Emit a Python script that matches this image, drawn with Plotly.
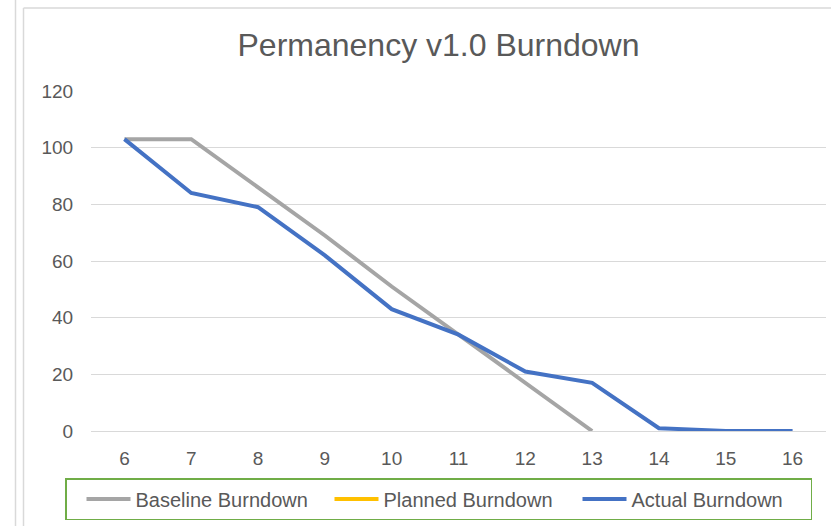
import plotly.graph_objects as go

sprints = [6, 7, 8, 9, 10, 11, 12, 13, 14, 15, 16]
baseline = [103, 103, 86, 69, 51, 34, 17, 0, None, None, None]
planned = [None] * 11
actual = [103, 84, 79, 62, 43, 34, 21, 17, 1, 0, 0]
y_ticks = [0, 20, 40, 60, 80, 100, 120]

W, H = 831, 526
L, R, T, B = 91, 826, 91, 431  # plot area in px


def px(x):
    return (x - L) / (R - L)


def py(y):
    return (B - y) / (B - T)


FONT = "Liberation Sans, Arial, sans-serif"
TXT = "#595959"
GRID = "#D9D9D9"

fig = go.Figure()
fig.add_trace(go.Scatter(x=sprints, y=baseline, mode="lines", name="Baseline Burndown",
                         line=dict(color="#A5A5A5", width=4)))
fig.add_trace(go.Scatter(x=sprints, y=planned, mode="lines", name="Planned Burndown",
                         line=dict(color="#FFC000", width=4)))
fig.add_trace(go.Scatter(x=sprints, y=actual, mode="lines", name="Actual Burndown",
                         line=dict(color="#4472C4", width=4)))

fig.update_layout(
    width=W, height=H,
    margin=dict(l=L, r=W - R, t=T, b=H - B, pad=0, autoexpand=False),
    paper_bgcolor="white", plot_bgcolor="white",
    font=dict(family=FONT, color=TXT, size=19),
    title=dict(text="Permanency v1.0 Burndown", x=438.5 / W, xref="container", xanchor="center",
               y=1 - 45 / H, yref="container", yanchor="middle",
               font=dict(size=32, color=TXT, family=FONT)),
    showlegend=True,
    legend=dict(orientation="h", x=px(65), xanchor="left", y=py(478), yanchor="top",
                bordercolor="#70AD47", borderwidth=1.5, bgcolor="white",
                font=dict(size=20, color=TXT, family=FONT),
                indentation=15, itemwidth=44,
                entrywidth=174, entrywidthmode="pixels", traceorder="normal"),
    xaxis=dict(range=[5.5, 16.5], tickvals=sprints, showgrid=False, zeroline=False,
               showline=False, ticks="outside", ticklen=10, tickcolor="rgba(0,0,0,0)",
               tickfont=dict(size=19, color=TXT), fixedrange=True),
    yaxis=dict(range=[0, 120], tickvals=y_ticks, showgrid=True, gridcolor=GRID, gridwidth=1,
               zeroline=True, zerolinecolor=GRID, zerolinewidth=1, showline=False,
               ticks="outside", ticklen=13, tickcolor="rgba(0,0,0,0)",
               tickfont=dict(size=19, color=TXT), fixedrange=True),
    shapes=[
        dict(type="line", xref="paper", yref="paper", x0=px(15.5), x1=px(15.5), y0=py(0), y1=py(H),
             line=dict(color=GRID, width=1.5)),
        dict(type="line", xref="paper", yref="paper", x0=px(23.5), x1=px(23.5), y0=py(8), y1=py(H),
             line=dict(color=GRID, width=1.5)),
        dict(type="line", xref="paper", yref="paper", x0=px(23.5), x1=px(W), y0=py(8), y1=py(8),
             line=dict(color=GRID, width=1.5)),
    ],
)

fig.write_html("out.html", config={"displayModeBar": False},
               post_script="document.body.style.margin='0';document.body.style.overflow='hidden';")
